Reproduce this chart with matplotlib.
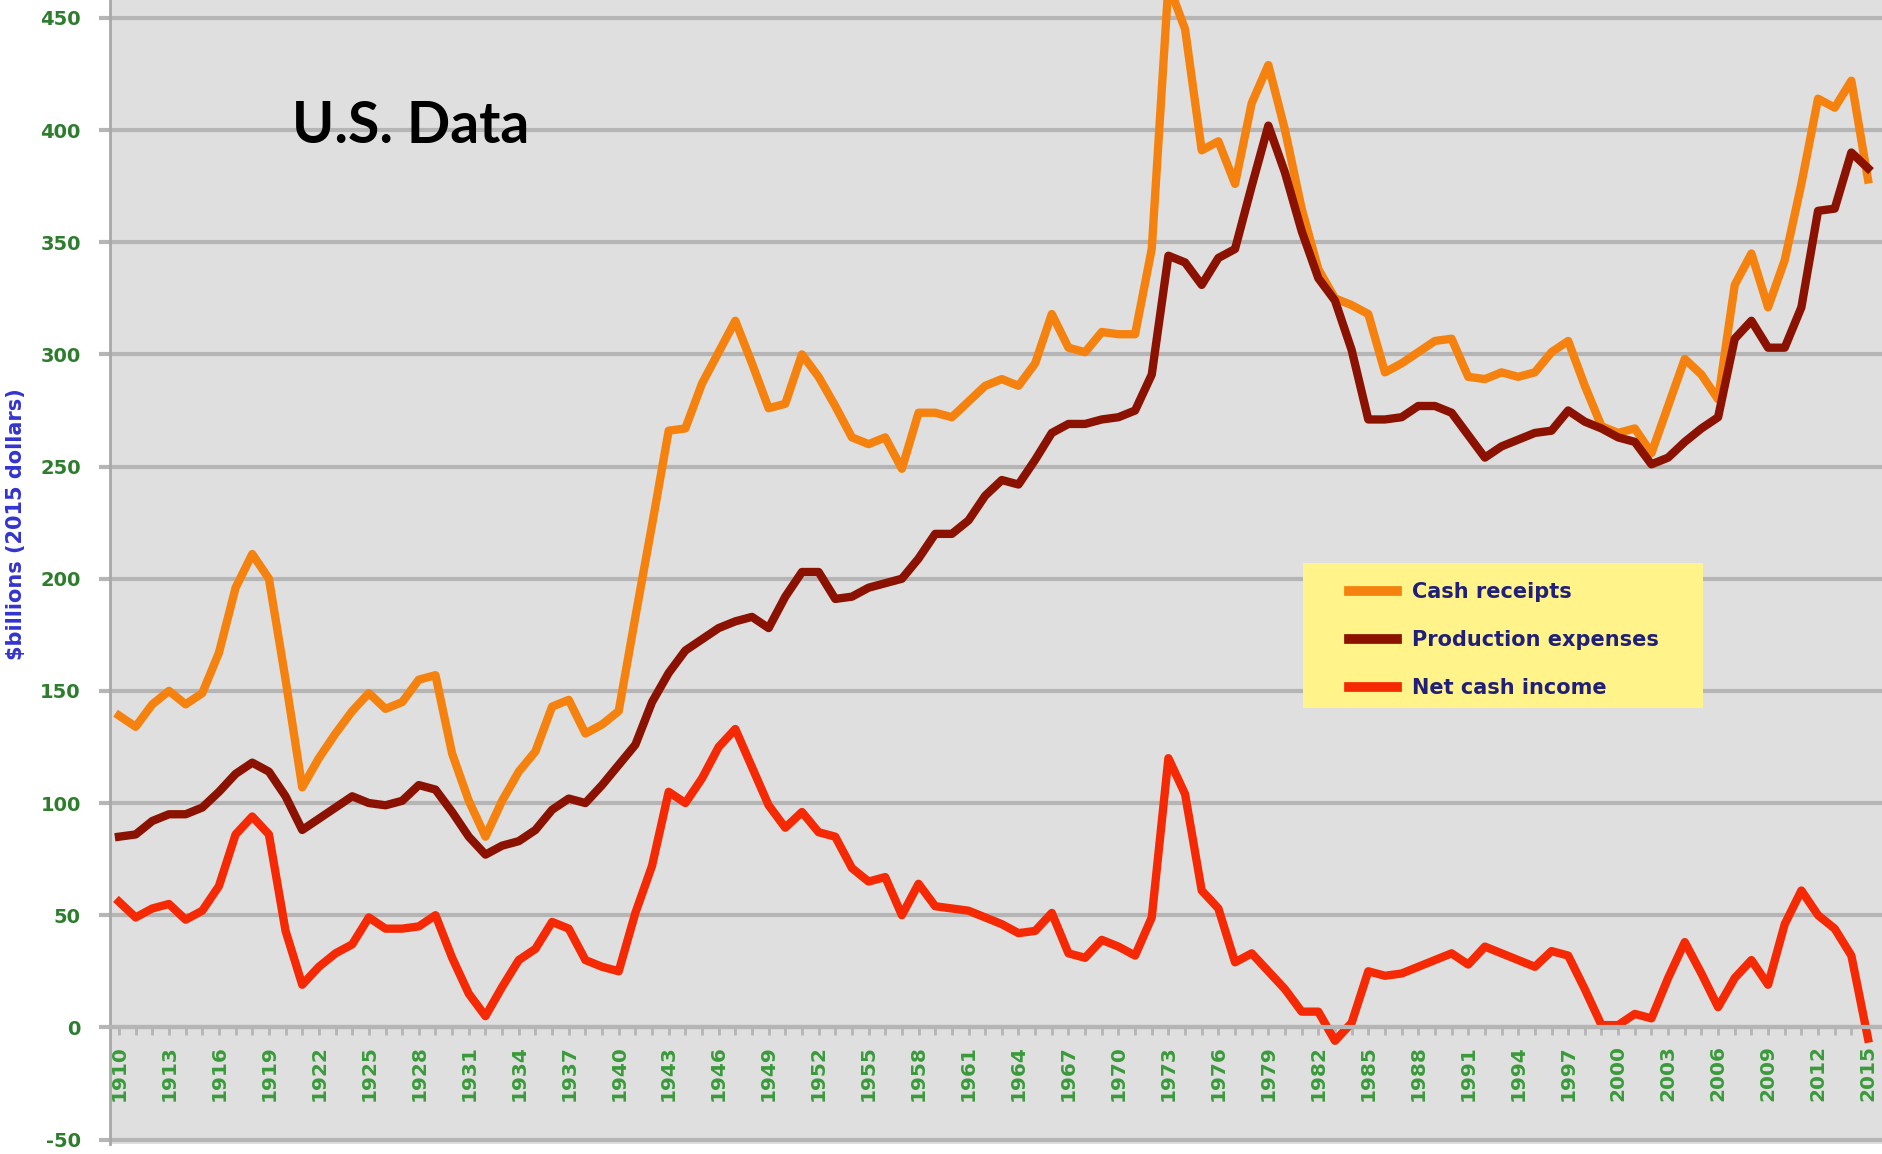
import numpy as np
import matplotlib.pyplot as plt
from matplotlib.patches import Rectangle
from matplotlib.ticker import MultipleLocator

plt.rcParams['axes.unicode_minus'] = False

# US farm sector, $billions (2015 dollars)
years = list(range(1910, 2016))

cash_receipts = [
    139, 134, 144, 150, 144, 149, 167, 196, 211, 200,   # 1910s
    155, 107, 120, 131, 141, 149, 142, 145, 155, 157,   # 1920s
    122, 101, 85, 101, 114, 123, 143, 146, 131, 135,    # 1930s
    141, 183, 224, 266, 267, 287, 301, 315, 296, 276,   # 1940s
    278, 300, 290, 277, 263, 260, 263, 249, 274, 274,   # 1950s
    272, 279, 286, 289, 286, 296, 318, 303, 301, 310,   # 1960s
    309, 309, 347, 465, 445, 391, 395, 376, 412, 429,   # 1970s
    400, 365, 338, 325, 322, 318, 292, 296, 301, 306,   # 1980s
    307, 290, 289, 292, 290, 292, 301, 306, 286, 268,   # 1990s
    265, 267, 256, 277, 298, 291, 280, 331, 345, 321,   # 2000s
    342, 376, 414, 410, 422, 378,                       # 2010s
]

production_expenses = [
    85, 86, 92, 95, 95, 98, 105, 113, 118, 114,
    103, 88, 93, 98, 103, 100, 99, 101, 108, 106,
    96, 85, 77, 81, 83, 88, 97, 102, 100, 108,
    117, 126, 145, 158, 168, 173, 178, 181, 183, 178,
    192, 203, 203, 191, 192, 196, 198, 200, 209, 220,
    220, 226, 237, 244, 242, 253, 265, 269, 269, 271,
    272, 275, 291, 344, 341, 331, 343, 347, 375, 402,
    381, 355, 334, 324, 302, 271, 271, 272, 277, 277,
    274, 264, 254, 259, 262, 265, 266, 275, 270, 267,
    263, 261, 251, 254, 261, 267, 272, 307, 315, 303,
    303, 321, 364, 365, 390, 383,
]

net_cash_income = [
    56, 49, 53, 55, 48, 52, 63, 86, 94, 86,
    43, 19, 27, 33, 37, 49, 44, 44, 45, 50,
    31, 15, 5, 18, 30, 35, 47, 44, 30, 27,
    25, 51, 72, 105, 100, 111, 125, 133, 116, 99,
    89, 96, 87, 85, 71, 65, 67, 50, 64, 54,
    53, 52, 49, 46, 42, 43, 51, 33, 31, 39,
    36, 32, 49, 120, 104, 61, 53, 29, 33, 25,
    17, 7, 7, -6, 2, 25, 23, 24, 27, 30,
    33, 28, 36, 33, 30, 27, 34, 32, 17, 1,
    1, 6, 4, 22, 38, 24, 9, 22, 30, 19,
    46, 61, 50, 44, 32, -5,
]

series_names = ['Cash receipts', 'Production expenses', 'Net cash income']
series_colors = ['#f5820f', '#8b1200', '#f52a05']

grid_col = '#b5b5b5'

fig = plt.figure(figsize=(18.83, 11.54), dpi=100)
ax = fig.add_axes([110 / 1883, 10 / 1154, 1 - 110 / 1883, 1144 / 1154])
ax.set_facecolor('#dfdfdf')

for vals, name, col in zip([cash_receipts, production_expenses, net_cash_income],
                           series_names, series_colors):
    ax.plot(years, vals, color=col, lw=6, label=name, solid_joinstyle='round', zorder=2)

ax.set_xlim(1909.46, 2015.9)
ax.set_ylim(-52, 458)

# spines first: moving the bottom spine resets the ticks
ax.spines['bottom'].set_position(('data', 0))
ax.spines['bottom'].set_color(grid_col)
ax.spines['bottom'].set_linewidth(3)
ax.spines['left'].set_color('#a8a8a8')
ax.spines['left'].set_linewidth(2)
ax.spines['top'].set_visible(False)
ax.spines['right'].set_visible(False)

# y axis
ax.set_yticks(range(-50, 451, 50))
ax.yaxis.grid(True, color=grid_col, lw=3)
ax.set_axisbelow(True)
ax.tick_params(axis='y', length=8, width=3, color=grid_col, pad=13,
               labelsize=14, labelcolor='#2e7d2e')
for lab in ax.get_yticklabels():
    lab.set_fontweight('bold')

# x axis sits on the zero line
ax.set_xticks(years[::3])
ax.set_xticklabels([str(y) for y in years[::3]])
ax.xaxis.set_minor_locator(MultipleLocator(1))
ax.tick_params(axis='x', which='both', length=6, width=2, color=grid_col, pad=7,
               labelsize=14.5, labelcolor='#3a9a3a', labelrotation=90)
for lab in ax.get_xticklabels():
    lab.set_fontweight('bold')

fig.text(0.0083, 0.546, '$billions (2015 dollars)', rotation=90, ha='center', va='center',
         fontsize=15, fontweight='bold', color='#3333d0')

ax.text(0.1026, 0.875, 'U.S. Data', transform=ax.transAxes, fontsize=41,
        fontweight='bold', family='Lato', color='black', va='baseline')

# legend box
ax.add_patch(Rectangle((0.6729, 0.3811), 0.2256, 0.1267, transform=ax.transAxes,
                       facecolor='#fff38a', edgecolor='none', zorder=3))
leg = ax.legend(loc='center left', bbox_to_anchor=(0.6988, 0.4406), frameon=False,
                borderpad=0, borderaxespad=0, handlelength=2.3, handletextpad=0.72,
                labelspacing=1.35, prop={'size': 15, 'weight': 'bold'})
leg.set_zorder(4)
for t in leg.get_texts():
    t.set_color('#20207a')
for h in leg.get_lines():
    h.set_linewidth(7)

fig.savefig('out.png', dpi=100)
